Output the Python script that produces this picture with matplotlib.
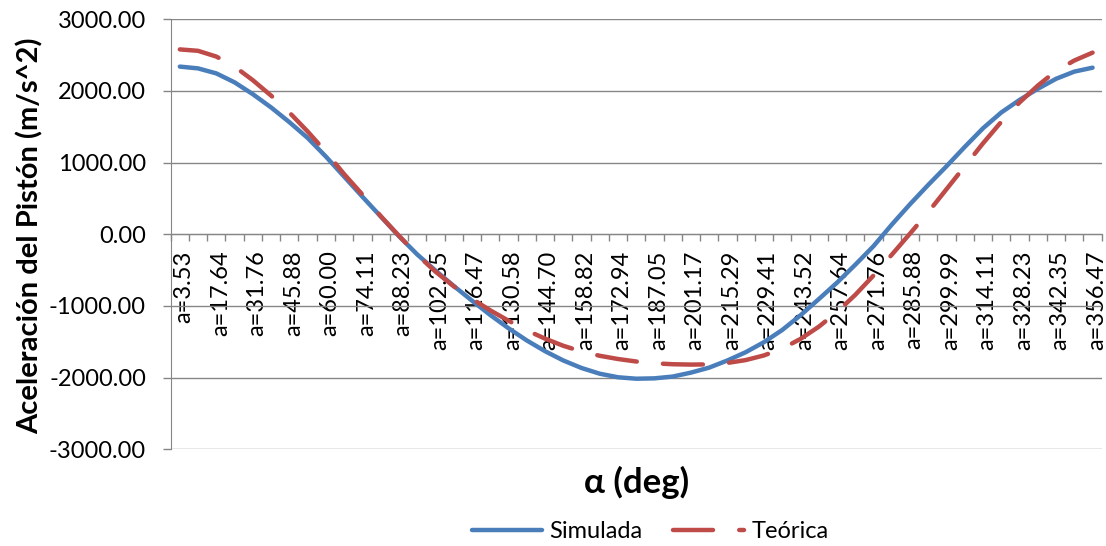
import matplotlib
matplotlib.use('Agg')
import matplotlib.pyplot as plt
import matplotlib.transforms as mtransforms

plt.rcParams['font.family'] = ['Lato', 'DejaVu Sans']

# --- data ---
tick_labels = ["a=3.53", "a=17.64", "a=31.76", "a=45.88", "a=60.00", "a=74.11",
               "a=88.23", "a=102.35", "a=116.47", "a=130.58", "a=144.70",
               "a=158.82", "a=172.94", "a=187.05", "a=201.17", "a=215.29",
               "a=229.41", "a=243.52", "a=257.64", "a=271.76", "a=285.88",
               "a=299.99", "a=314.11", "a=328.23", "a=342.35", "a=356.47"]

simulada = [2340, 2315, 2245, 2120, 1955, 1770, 1565, 1345, 1085, 805,
            525, 250, -25, -280, -505, -720, -925, -1125, -1310, -1480,
            -1630, -1760, -1865, -1945, -1995, -2015, -2010, -1985, -1930, -1860,
            -1760, -1645, -1505, -1335, -1130, -905, -675, -425, -165, 135,
            420, 690, 950, 1220, 1480, 1700, 1875, 2030, 2170, 2270,
            2325]

teorica = [2580, 2560, 2480, 2340, 2150, 1935, 1700, 1435, 1150, 840,
           555, 255, -20, -285, -520, -725, -900, -1060, -1205, -1340,
           -1455, -1555, -1635, -1695, -1740, -1775, -1800, -1813, -1818, -1815,
           -1795, -1755, -1690, -1595, -1460, -1290, -1085, -845, -575, -285,
           10, 310, 630, 950, 1270, 1570, 1840, 2075, 2280, 2425,
           2535]

W, H = 1106, 546
fig = plt.figure(figsize=(W / 100, H / 100), dpi=100)
L, R, T, B = 170.7, 1101.7, 19.3, 449.3
ax = fig.add_axes([L / W, 1 - B / H, (R - L) / W, (B - T) / H])

x = list(range(len(simulada)))
ax.plot(x, simulada, color='#4A7EBB', lw=3.2, solid_capstyle='round',
        label='Simulada', zorder=3)
ax.plot(x, teorica, color='#BE4B48', lw=3.2, ls=(0, (9, 5.9)),
        dash_capstyle='round', label='Teórica', zorder=4)

ax.set_xlim(-0.5, len(x) - 0.5)
ax.set_ylim(-3000, 3000)
ax.set_yticks(range(-3000, 3001, 1000))
ax.yaxis.set_major_formatter(lambda v, p: f'{v:.2f}')
ax.grid(axis='y', color='#868686', lw=1)
ax.set_axisbelow(True)
for s in ['top', 'right']:
    ax.spines[s].set_visible(False)
ax.spines['left'].set_color('#868686')
ax.spines['bottom'].set_position(('data', 0))
ax.spines['bottom'].set_color('#868686')
ax.tick_params(axis='y', direction='out', length=5.8, width=1,
               color='#868686', pad=12, labelsize=17)

ax.set_xticks(x[::2], tick_labels, rotation=90)
ax.tick_params(axis='x', which='major', length=0, pad=11.5, labelsize=17)
ax.set_xticks([i - 0.5 for i in range(len(x) + 1)], minor=True)
ax.tick_params(axis='x', which='minor', length=4.8, width=1,
               color='#868686', direction='out')
off = mtransforms.ScaledTranslation(0.04, 0, fig.dpi_scale_trans)
for lab in ax.get_xticklabels():
    lab.set_transform(lab.get_transform() + off)

fig.text(30 / W, 1 - 236 / H, 'Aceleración del Pistón (m/s^2)', rotation=90,
         ha='center', va='center', fontsize=21, fontweight='bold')
fig.text(636.5 / W, 1 - 482 / H, 'α (deg)', ha='center', va='center',
         fontsize=25, fontweight='bold')

fig.legend(loc='center', bbox_to_anchor=(650 / W, 1 - 531.7 / H), ncol=2,
           frameon=False, fontsize=17, handlelength=3.0, handletextpad=0.3,
           columnspacing=1.3)

fig.savefig('out.png', dpi=100)
